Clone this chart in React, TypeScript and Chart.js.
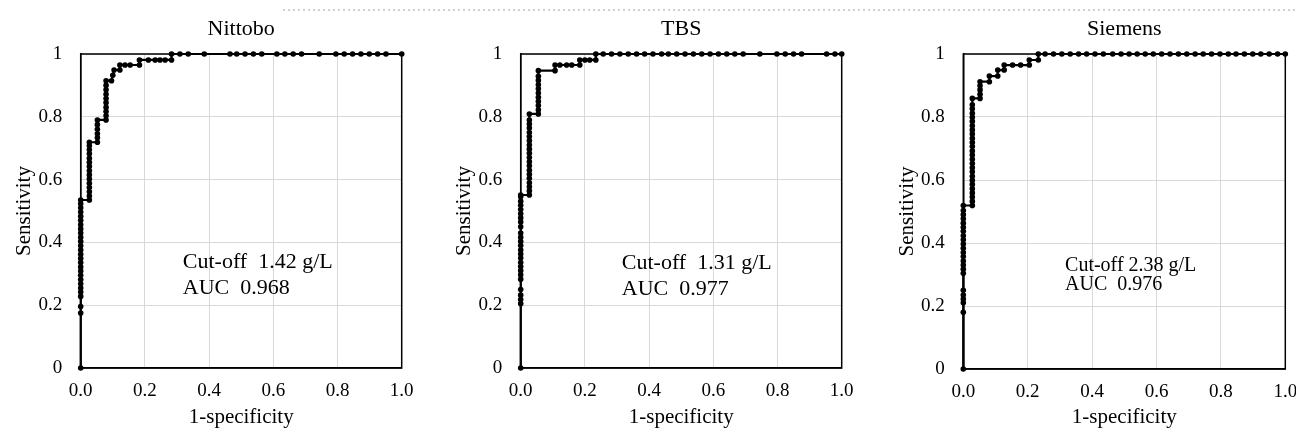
import React, { useEffect, useRef } from 'react';
import { Chart, registerables } from 'chart.js';

Chart.register(...registerables);

// ---------- data ----------
const panelTitles = ['Nittobo', 'TBS', 'Siemens'];
const xTickLabels = ['0.0', '0.2', '0.4', '0.6', '0.8', '1.0'];
const yTickLabels = ['0', '0.2', '0.4', '0.6', '0.8', '1'];
const xAxisTitle = '1-specificity';
const yAxisTitle = 'Sensitivity';
const cutoffTexts = ['Cut-off  1.42 g/L', 'Cut-off  1.31 g/L', 'Cut-off 2.38 g/L'];
const aucTexts = ['AUC  0.968', 'AUC  0.977', 'AUC  0.976'];

const nittoboFpr = [
  0, 0, 0, 0, 0, 0, 0, 0, 0, 0, 0, 0, 0, 0, 0, 0, 0, 0, 0, 0, 0, 0, 0, 0, 0, 0, 0,
  0.027, 0.027, 0.027, 0.027, 0.027, 0.027, 0.027, 0.027, 0.027, 0.027, 0.027, 0.027, 0.027, 0.027, 0.027,
  0.052, 0.052, 0.052, 0.052, 0.052, 0.052,
  0.079, 0.079, 0.079, 0.079, 0.079, 0.079, 0.079, 0.079, 0.079, 0.079,
  0.096, 0.100, 0.104, 0.122, 0.122, 0.138, 0.154, 0.183, 0.183,
  0.211, 0.232, 0.247, 0.263, 0.283, 0.283,
  0.309, 0.335, 0.385, 0.465, 0.486, 0.512, 0.538, 0.564, 0.611, 0.636, 0.662, 0.688,
  0.743, 0.795, 0.821, 0.847, 0.873, 0.899, 0.925, 0.951, 1,
];
const nittoboTpr = [
  0, 0.175, 0.196, 0.228, 0.242, 0.255, 0.268, 0.282, 0.295, 0.309, 0.322, 0.336, 0.349, 0.362, 0.376, 0.389,
  0.403, 0.416, 0.430, 0.443, 0.456, 0.470, 0.483, 0.497, 0.510, 0.523, 0.535,
  0.535, 0.548, 0.561, 0.575, 0.588, 0.602, 0.615, 0.628, 0.642, 0.655, 0.668, 0.682, 0.695, 0.708, 0.719,
  0.719, 0.733, 0.746, 0.760, 0.775, 0.790,
  0.790, 0.803, 0.817, 0.830, 0.845, 0.858, 0.872, 0.886, 0.900, 0.915,
  0.915, 0.932, 0.949, 0.949, 0.965, 0.965, 0.965, 0.965, 0.981,
  0.981, 0.981, 0.981, 0.981, 0.981, 1,
  1, 1, 1, 1, 1, 1, 1, 1, 1, 1, 1, 1,
  1, 1, 1, 1, 1, 1, 1, 1, 1,
];

const tbsFpr = [
  0, 0, 0, 0, 0,
  0, 0, 0, 0, 0, 0, 0, 0, 0, 0, 0, 0, 0, 0, 0, 0, 0, 0, 0, 0, 0,
  0.027, 0.027, 0.027, 0.027, 0.027, 0.027, 0.027, 0.027, 0.027, 0.027, 0.027, 0.027, 0.027, 0.027, 0.027,
  0.027, 0.027, 0.027, 0.027, 0.027,
  0.055, 0.055, 0.055, 0.055, 0.055, 0.055, 0.055, 0.055, 0.055, 0.055, 0.055,
  0.107, 0.107, 0.122, 0.143, 0.159, 0.184, 0.184, 0.200, 0.215, 0.234, 0.234,
  0.257, 0.283, 0.309, 0.335, 0.361, 0.386, 0.412, 0.439, 0.460, 0.486, 0.512, 0.538, 0.564, 0.590,
  0.616, 0.642, 0.667, 0.693, 0.745, 0.798, 0.824, 0.850, 0.875, 0.953, 0.979, 1,
];
const tbsTpr = [
  0, 0.205, 0.218, 0.232, 0.250,
  0.283, 0.297, 0.310, 0.323, 0.336, 0.350, 0.363, 0.376, 0.390, 0.403, 0.416, 0.430, 0.450, 0.465, 0.478,
  0.491, 0.505, 0.518, 0.531, 0.545, 0.551,
  0.551, 0.564, 0.577, 0.590, 0.604, 0.617, 0.630, 0.644, 0.657, 0.670, 0.684, 0.697, 0.710, 0.724, 0.737,
  0.750, 0.764, 0.777, 0.790, 0.809,
  0.809, 0.822, 0.836, 0.849, 0.862, 0.876, 0.889, 0.902, 0.916, 0.929, 0.947,
  0.947, 0.965, 0.965, 0.965, 0.965, 0.965, 0.981, 0.981, 0.981, 0.981, 1,
  1, 1, 1, 1, 1, 1, 1, 1, 1, 1, 1, 1, 1, 1,
  1, 1, 1, 1, 1, 1, 1, 1, 1, 1, 1, 1,
];

const siemensFpr = [
  0, 0, 0, 0, 0, 0,
  0, 0, 0, 0, 0, 0, 0, 0, 0, 0, 0, 0, 0, 0, 0, 0, 0,
  0.028, 0.028, 0.028, 0.028, 0.028, 0.028, 0.028, 0.028, 0.028, 0.028, 0.028, 0.028, 0.028, 0.028, 0.028,
  0.028, 0.028, 0.028, 0.028, 0.028, 0.028, 0.028, 0.028, 0.028, 0.028, 0.028,
  0.052, 0.052, 0.052, 0.052, 0.052,
  0.081, 0.081, 0.107, 0.107, 0.127, 0.127, 0.153, 0.178, 0.205, 0.205, 0.233, 0.233,
  0.254, 0.280, 0.306, 0.332, 0.358, 0.383, 0.409, 0.435, 0.464, 0.490, 0.515, 0.540, 0.565, 0.590,
  0.616, 0.642, 0.668, 0.694, 0.720, 0.745, 0.771, 0.797, 0.823, 0.847, 0.873, 0.899, 0.924, 0.950,
  0.976, 1,
];
const siemensTpr = [
  0, 0.180, 0.210, 0.222, 0.235, 0.250,
  0.304, 0.317, 0.330, 0.343, 0.357, 0.370, 0.383, 0.397, 0.410, 0.423, 0.437, 0.450, 0.463, 0.477, 0.490,
  0.503, 0.519,
  0.519, 0.532, 0.546, 0.559, 0.572, 0.586, 0.599, 0.612, 0.626, 0.639, 0.652, 0.666, 0.679, 0.692, 0.706,
  0.719, 0.732, 0.746, 0.759, 0.772, 0.786, 0.799, 0.812, 0.826, 0.839, 0.859,
  0.859, 0.872, 0.886, 0.899, 0.912,
  0.912, 0.930, 0.930, 0.949, 0.949, 0.965, 0.965, 0.965, 0.965, 0.981, 0.981, 1,
  1, 1, 1, 1, 1, 1, 1, 1, 1, 1, 1, 1, 1, 1,
  1, 1, 1, 1, 1, 1, 1, 1, 1, 1, 1, 1, 1, 1,
  1, 1,
];

const fprSeries = [nittoboFpr, tbsFpr, siemensFpr];
const tprSeries = [nittoboTpr, tbsTpr, siemensTpr];
const annotationX = [0.318, 0.315, 0.316];

// ---------- layout (pixels) ----------
const FONT = '"Liberation Serif", "Times New Roman", serif';
const CANVAS_W = 430;
const CANVAS_H = 432;
const canvasLeft = [0, 440, 883];
const plotLeft = [80.7, 520.7, 963.3];
const plotWidth = [321, 321, 322];
const plotTop = 54;
const plotBottom = [368, 368, 369];
const annotFont = [22, 22, 20];
const annotBaselines = [[268, 294], [269, 295], [271, 290]];

function RocPanel({ idx }: { idx: number }) {
  const ref = useRef<HTMLCanvasElement | null>(null);

  useEffect(() => {
    const canvas = ref.current;
    if (!canvas) return;
    const points = fprSeries[idx].map((x, i) => ({ x, y: tprSeries[idx][i] }));
    const yWidth = plotLeft[idx] - canvasLeft[idx];
    const xHeight = CANVAS_H - plotBottom[idx];
    const rightPad = CANVAS_W - yWidth - plotWidth[idx];

    const framePlugin = {
      id: 'frame' + idx,
      beforeDatasetsDraw(chart: any) {
        const { ctx, chartArea: a } = chart;
        ctx.save();
        ctx.strokeStyle = '#000';
        ctx.lineWidth = 1.5;
        ctx.strokeRect(a.left, a.top, a.right - a.left, a.bottom - a.top);
        ctx.restore();
      },
    };

    const textPlugin = {
      id: 'texts' + idx,
      afterDraw(chart: any) {
        const { ctx, chartArea: a } = chart;
        const xs = chart.scales.x;
        ctx.save();
        ctx.fillStyle = '#000';
        ctx.font = `22px ${FONT}`;
        ctx.textAlign = 'center';
        ctx.textBaseline = 'alphabetic';
        ctx.fillText(panelTitles[idx], (a.left + a.right) / 2, 35);
        ctx.font = `${annotFont[idx]}px ${FONT}`;
        ctx.textAlign = 'left';
        const ax = xs.getPixelForValue(annotationX[idx]);
        ctx.fillText(cutoffTexts[idx], ax, annotBaselines[idx][0]);
        ctx.fillText(aucTexts[idx], ax, annotBaselines[idx][1]);
        ctx.restore();
      },
    };

    const chart = new Chart(canvas, {
      type: 'scatter',
      data: {
        datasets: [
          {
            data: points,
            showLine: true,
            borderColor: '#000',
            borderWidth: 2.2,
            pointRadius: 2.8,
            pointHoverRadius: 2.8,
            pointBackgroundColor: '#000',
            pointBorderWidth: 0,
            tension: 0,
            clip: false,
          } as any,
        ],
      },
      options: {
        responsive: false,
        animation: false,
        events: [],
        layout: {
          autoPadding: false,
          padding: { top: plotTop, left: 0, right: rightPad, bottom: 0 },
        } as any,
        plugins: {
          legend: { display: false },
          tooltip: { enabled: false },
          title: { display: false },
        },
        scales: {
          x: {
            type: 'linear',
            min: 0,
            max: 1,
            ticks: {
              stepSize: 0.2,
              autoSkip: false,
              maxRotation: 0,
              padding: 12,
              color: '#000',
              font: { family: FONT, size: 19 },
              callback: (v: any) => xTickLabels[Math.round(Number(v) / 0.2)] ?? '',
            },
            grid: { color: '#d9d9d9', lineWidth: 1, drawTicks: false },
            border: { display: true, color: '#000', width: 1.5 },
            title: {
              display: true,
              text: xAxisTitle,
              color: '#000',
              font: { family: FONT, size: 21 },
              padding: { top: 0, bottom: 1.5 },
            },
            afterFit: (s: any) => {
              s.height = xHeight;
            },
          },
          y: {
            type: 'linear',
            min: 0,
            max: 1,
            ticks: {
              stepSize: 0.2,
              autoSkip: false,
              padding: 18.5,
              color: '#000',
              font: { family: FONT, size: 19 },
              callback: (v: any) => yTickLabels[Math.round(Number(v) / 0.2)] ?? '',
            },
            grid: { color: '#d9d9d9', lineWidth: 1, drawTicks: false },
            border: { display: true, color: '#000', width: 1.5 },
            title: {
              display: true,
              text: yAxisTitle,
              color: '#000',
              font: { family: FONT, size: 21 },
              padding: { top: 11.8, bottom: 0 },
            },
            afterFit: (s: any) => {
              s.width = yWidth;
            },
          },
        },
      } as any,
      plugins: [framePlugin, textPlugin],
    });

    return () => chart.destroy();
  }, [idx]);

  return (
    <canvas
      ref={ref}
      width={CANVAS_W}
      height={CANVAS_H}
      style={{
        position: 'absolute',
        left: canvasLeft[idx],
        top: 0,
        width: CANVAS_W,
        height: CANVAS_H,
      }}
    />
  );
}

export default function App() {
  return (
    <div
      style={{
        position: 'absolute',
        left: 0,
        top: 0,
        width: 1296,
        height: 432,
        overflow: 'hidden',
        background: '#fff',
      }}
    >
      <div
        style={{
          position: 'absolute',
          left: 283,
          right: 0,
          top: 9,
          height: 2,
          backgroundImage:
            'repeating-linear-gradient(to right, #c9d2da 0px, #c9d2da 2px, transparent 2px, transparent 5px)',
        }}
      />
      {[0, 1, 2].map((i) => (
        <RocPanel key={i} idx={i} />
      ))}
    </div>
  );
}
